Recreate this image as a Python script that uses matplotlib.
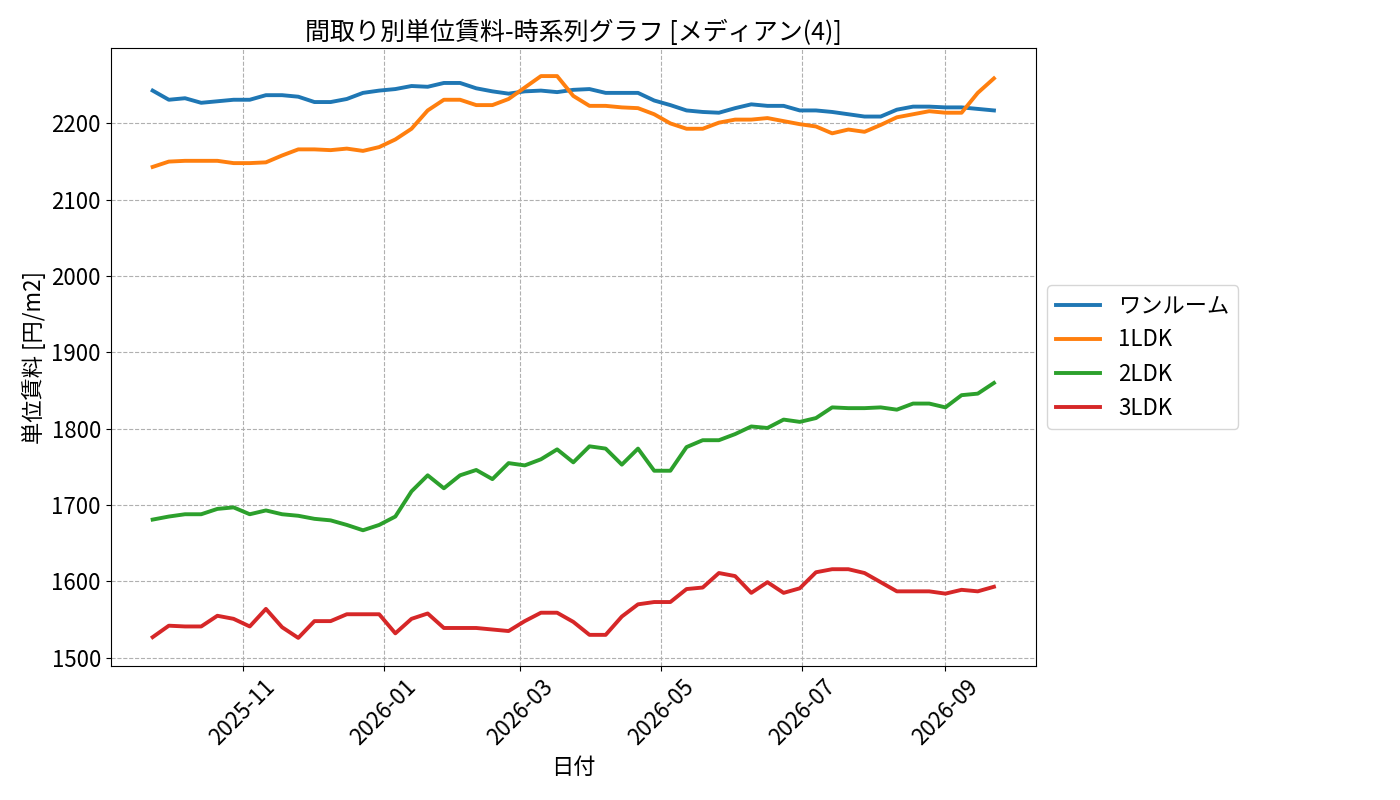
import matplotlib
matplotlib.use('Agg')
import matplotlib.pyplot as plt
import matplotlib.dates as mdates
import pandas as pd

plt.rcParams['font.family'] = ['Noto Sans CJK JP', 'DejaVu Sans']
plt.rcParams['font.size'] = 16

# weekly dates
start_date = '2025-09-23'
n_weeks = 53

labels = ['ワンルーム', '1LDK', '2LDK', '3LDK']

one_room = [2243, 2231, 2233, 2227, 2229, 2231, 2231, 2237, 2237, 2235,
            2228, 2228, 2232, 2240, 2243, 2245, 2249, 2248, 2253, 2253,
            2246, 2242, 2239, 2242, 2243, 2241, 2244, 2245, 2240, 2240,
            2240, 2230, 2224, 2217, 2215, 2214, 2220, 2225, 2223, 2223,
            2217, 2217, 2215, 2212, 2209, 2209, 2218, 2222, 2222, 2221,
            2221, 2219, 2217]
ldk1 = [2143, 2150, 2151, 2151, 2151, 2148, 2148, 2149, 2158, 2166,
        2166, 2165, 2167, 2164, 2169, 2179, 2193, 2217, 2231, 2231,
        2224, 2224, 2232, 2247, 2262, 2262, 2236, 2223, 2223, 2221,
        2220, 2212, 2200, 2193, 2193, 2201, 2205, 2205, 2207, 2203,
        2199, 2196, 2187, 2192, 2189, 2198, 2208, 2212, 2216, 2214,
        2214, 2240, 2259]
ldk2 = [1681, 1685, 1688, 1688, 1695, 1697, 1688, 1693, 1688, 1686,
        1682, 1680, 1674, 1667, 1674, 1685, 1718, 1739, 1722, 1739,
        1746, 1734, 1755, 1752, 1760, 1773, 1756, 1777, 1774, 1753,
        1774, 1745, 1745, 1776, 1785, 1785, 1793, 1803, 1801, 1812,
        1809, 1814, 1828, 1827, 1827, 1828, 1825, 1833, 1833, 1828,
        1844, 1846, 1860]
ldk3 = [1527, 1542, 1541, 1541, 1555, 1551, 1541, 1564, 1540, 1526,
        1548, 1548, 1557, 1557, 1557, 1532, 1551, 1558, 1539, 1539,
        1539, 1537, 1535, 1548, 1559, 1559, 1547, 1530, 1530, 1554,
        1570, 1573, 1573, 1590, 1592, 1611, 1607, 1585, 1599, 1585,
        1591, 1612, 1616, 1616, 1611, 1599, 1587, 1587, 1587, 1584,
        1589, 1587, 1593]

dates = pd.date_range(start_date, periods=n_weeks, freq='7D')

fig = plt.figure(figsize=(14, 8), dpi=100)
ax = fig.add_subplot()
fig.subplots_adjust(left=0.079, right=0.740, top=0.94, bottom=0.1675)

for series, name in zip([one_room, ldk1, ldk2, ldk3], labels):
    ax.plot(dates, series, label=name, linewidth=2.8)

ax.set_title('間取り別単位賃料-時系列グラフ [メディアン(4)]', fontsize=18)
ax.set_xlabel('日付')
ax.set_ylabel('単位賃料 [円/m2]')
ax.xaxis.set_major_locator(mdates.MonthLocator(bymonth=[1, 3, 5, 7, 9, 11]))
ax.xaxis.set_major_formatter(mdates.DateFormatter('%Y-%m'))
plt.setp(ax.get_xticklabels(), rotation=45)
ax.grid(True, linestyle='--', color='#b0b0b0', linewidth=0.8)
ax.legend(loc='center left', bbox_to_anchor=(1.0, 0.5))

fig.savefig('out.png')
